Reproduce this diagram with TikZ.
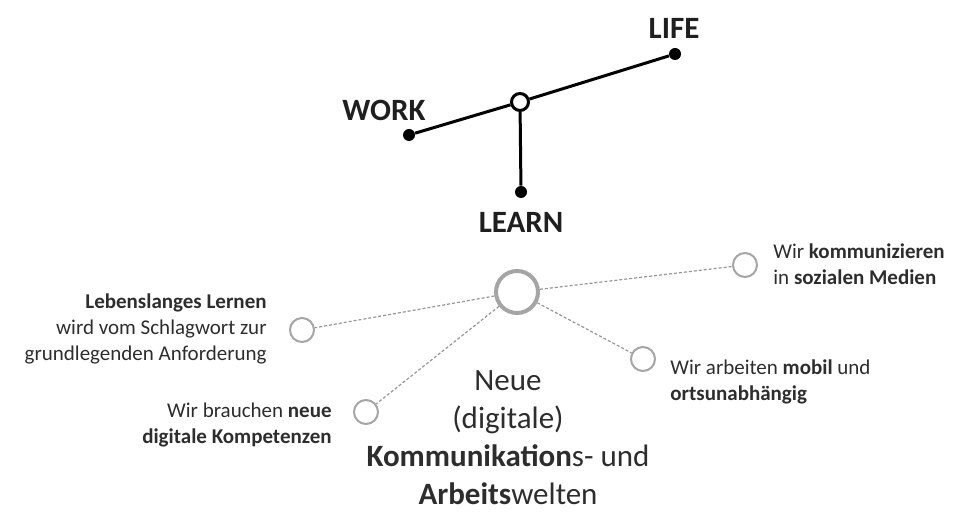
\documentclass[tikz,border=0pt]{standalone}
\usepackage{fontspec}
\setmainfont{Carlito}
\usetikzlibrary{positioning}
\definecolor{ringgray}{RGB}{165,165,165}
\definecolor{linkgray}{RGB}{150,150,150}
\definecolor{txtgray}{RGB}{45,45,45}

\begin{document}
\begin{tikzpicture}[x=0.5pt, y=-0.5pt,
  dot/.style={circle, fill=black, inner sep=0pt, minimum size=6pt},
  hub/.style={circle, draw=black, line width=1.5pt, fill=white, inner sep=0pt, minimum size=8.5pt},
  beam/.style={draw=black, line width=1.5pt},
  bigword/.style={font=\bfseries\fontsize{15.5}{18}\selectfont, text=black!88, inner sep=0pt},
  ring/.style={circle, draw=ringgray, line width=1pt, inner sep=0pt, minimum size=12pt},
  bigring/.style={circle, draw=ringgray, line width=2pt, inner sep=0pt, minimum size=21pt},
  link/.style={draw=linkgray, line width=0.6pt, dash pattern=on 1.5pt off 1pt},
  note/.style={font=\fontsize{10.5}{13}\selectfont, text=txtgray, inner sep=0pt},
  title/.style={font=\fontsize{15.5}{19}\selectfont, text=txtgray, align=center, inner sep=0pt}
]
  \useasboundingbox (0,0) rectangle (957,512);

  % work / life / learn balance
  \node[hub] (hub) at (520,102) {};
  \node[dot] (work) at (409,135) {};
  \node[dot] (life) at (675,54) {};
  \node[dot] (learn) at (521,192) {};
  \node[bigword] (worklbl) at (384,110) {WORK};
  \node[bigword] (lifelbl) at (674,28) {LIFE};
  \node[bigword] (learnlbl) at (521,222) {LEARN};
  \draw[beam] (work) -- (hub);
  \draw[beam] (hub) -- (life);
  \draw[beam] (hub) -- (learn);

  % new working worlds
  \node[bigring] (center) at (517,292) {};
  \node[ring] (lernen) at (302,330) {};
  \node[ring] (kompetenz) at (366,412) {};
  \node[ring] (medien) at (745,265) {};
  \node[ring] (mobil) at (643,359) {};
  \draw[link] (center) -- (lernen);
  \draw[link] (center) -- (kompetenz);
  \draw[link] (center) -- (medien);
  \draw[link] (center) -- (mobil);

  \node[note, anchor=east, align=right] (lernenlbl) at (267,329)
    {\textbf{Lebenslanges Lernen}\\wird vom Schlagwort zur\\grundlegenden Anforderung};
  \node[note, anchor=east, align=right] (kompetenzlbl) at (332,425)
    {Wir brauchen \textbf{neue}\\\textbf{digitale Kompetenzen}};
  \node[note, anchor=west, align=left] (medienlbl) at (773,264)
    {Wir \textbf{kommunizieren}\\in \textbf{sozialen Medien}};
  \node[note, anchor=west, align=left] (mobillbl) at (670,382)
    {Wir arbeiten \textbf{mobil} und\\\textbf{ortsunabhängig}};
  \node[title] (welten) at (508,438)
    {Neue\\(digitale)\\\textbf{Kommunikation}s- und\\\textbf{Arbeits}welten};
\end{tikzpicture}
\end{document}
